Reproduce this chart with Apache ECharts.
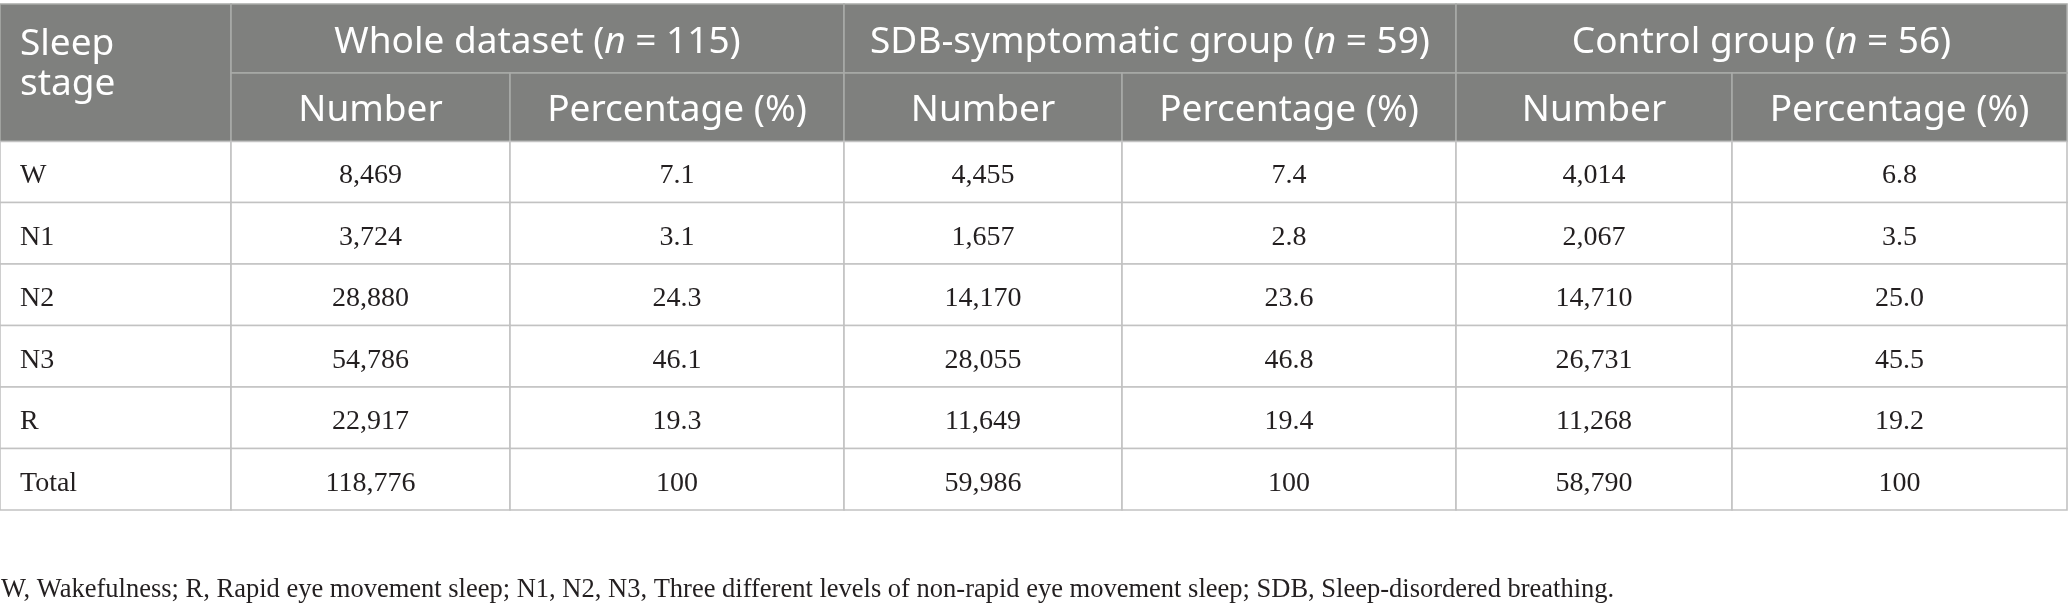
<!DOCTYPE html>
<html>
<head>
<meta charset="utf-8">
<script src="https://cdn.jsdelivr.net/npm/echarts@6/dist/echarts.min.js"></script>
<style>
  html, body { margin: 0; padding: 0; background: #ffffff; }
  #chart { width: 2068px; height: 612px; }
</style>
</head>
<body>
<div id="chart"></div>
<script>
// ---------------- data ----------------
const stageHeader = 'Sleep\nstage';
const stageLabels = ['W', 'N1', 'N2', 'N3', 'R', 'Total'];
const groupNames = ['Whole dataset', 'SDB-symptomatic group', 'Control group'];
const groupN = [115, 59, 56];
const subColumns = ['Number', 'Percentage (%)'];

const wholeCount   = [8469, 3724, 28880, 54786, 22917, 118776];
const wholePct     = [7.1, 3.1, 24.3, 46.1, 19.3, 100];
const sdbCount     = [4455, 1657, 14170, 28055, 11649, 59986];
const sdbPct       = [7.4, 2.8, 23.6, 46.8, 19.4, 100];
const controlCount = [4014, 2067, 14710, 26731, 11268, 58790];
const controlPct   = [6.8, 3.5, 25.0, 45.5, 19.2, 100];

const footnote = 'W, Wakefulness; R, Rapid eye movement sleep; N1, N2, N3, Three different levels of non-rapid eye movement sleep; SDB, Sleep-disordered breathing.';

// ---------------- layout (table geometry in axis units) ----------------
const COL_EDGES = [0, 231, 510, 844, 1122, 1456, 1732, 2067];
const ROW_EDGES = [0, 69, 137.5, 198.5, 260, 321.5, 383, 444.5, 506];

const HEAD_FONT = '"Noto Sans", "Open Sans", sans-serif';
const BODY_FONT = '"Liberation Serif", "DejaVu Serif", serif';

function fmtCount(v) { return v.toLocaleString('en-US'); }
function fmtPct(v) { return v === 100 ? '100' : v.toFixed(1); }

// ---------------- build cells ----------------
const cells = [];
function addCell(c0, c1, r0, r1, text, kind) {
  cells.push({ x0: COL_EDGES[c0], x1: COL_EDGES[c1], y0: ROW_EDGES[r0], y1: ROW_EDGES[r1], text: text, kind: kind });
}
addCell(0, 1, 0, 2, stageHeader, 'headLeft');
for (let g = 0; g < groupNames.length; g++) {
  addCell(1 + 2 * g, 3 + 2 * g, 0, 1, groupNames[g] + ' ({i|n} = ' + groupN[g] + ')', 'head');
  addCell(1 + 2 * g, 2 + 2 * g, 1, 2, subColumns[0], 'head');
  addCell(2 + 2 * g, 3 + 2 * g, 1, 2, subColumns[1], 'head');
}
const counts = [wholeCount, sdbCount, controlCount];
const pcts = [wholePct, sdbPct, controlPct];
for (let r = 0; r < stageLabels.length; r++) {
  addCell(0, 1, 2 + r, 3 + r, stageLabels[r], 'bodyLeft');
  for (let g = 0; g < 3; g++) {
    addCell(1 + 2 * g, 2 + 2 * g, 2 + r, 3 + r, fmtCount(counts[g][r]), 'body');
    addCell(2 + 2 * g, 3 + 2 * g, 2 + r, 3 + r, fmtPct(pcts[g][r]), 'body');
  }
}

// ---------------- render ----------------
const HEAD_SIZE = 37, BODY_SIZE = 28;
function renderItem(params, api) {
  const c = cells[params.dataIndex];
  const p0 = api.coord([api.value(0), api.value(2)]);
  const p1 = api.coord([api.value(1), api.value(3)]);
  const x = Math.min(p0[0], p1[0]), y = Math.min(p0[1], p1[1]);
  const w = Math.abs(p1[0] - p0[0]), h = Math.abs(p1[1] - p0[1]);
  const isHead = c.kind === 'head' || c.kind === 'headLeft';
  const rect = {
    type: 'rect',
    shape: { x: x, y: y, width: w, height: h },
    style: {
      fill: isHead ? '#7f807e' : '#ffffff',
      stroke: isHead ? '#a9aaa8' : '#c2c2c2',
      lineWidth: 1.6
    }
  };
  let tx, ty, align = 'center';
  if (c.kind === 'head') { tx = x + w / 2; ty = y + h / 2 + 3.5; }
  else if (c.kind === 'headLeft') { tx = x + 20; ty = y + 60; align = 'left'; }
  else if (c.kind === 'bodyLeft') { tx = x + 20; ty = y + h / 2 + 4; align = 'left'; }
  else { tx = x + w / 2; ty = y + h / 2 + 4; }
  const font = isHead ? HEAD_FONT : BODY_FONT;
  const size = isHead ? HEAD_SIZE : BODY_SIZE;
  const color = isHead ? '#ffffff' : '#231f20';
  const text = {
    type: 'text',
    x: tx, y: ty,
    style: {
      text: c.text,
      fill: color,
      fontFamily: font,
      fontSize: size,
      lineHeight: 40,
      align: align,
      verticalAlign: 'middle',
      rich: {
        i: { fontStyle: 'italic', fontFamily: font, fontSize: size, fill: color }
      }
    }
  };
  return { type: 'group', children: [rect, text] };
}

const chart = echarts.init(document.getElementById('chart'), null, { renderer: 'canvas' });
chart.setOption({
  backgroundColor: '#ffffff',
  animation: false,
  title: {
    text: footnote,
    left: 1,
    top: 577,
    padding: 0,
    textStyle: { fontFamily: BODY_FONT, fontSize: 26.5, fontWeight: 'normal', color: '#231f20' }
  },
  grid: { left: 0, right: 1, top: 4, height: 506, containLabel: false },
  xAxis: { type: 'value', min: 0, max: 2067, show: false },
  yAxis: { type: 'value', min: 0, max: 506, inverse: true, show: false },
  series: [{
    type: 'custom',
    renderItem: renderItem,
    data: cells.map(function (c) { return [c.x0, c.x1, c.y0, c.y1]; }),
    encode: { x: [0, 1], y: [2, 3] },
    silent: true,
    clip: false
  }]
});
</script>
</body>
</html>
